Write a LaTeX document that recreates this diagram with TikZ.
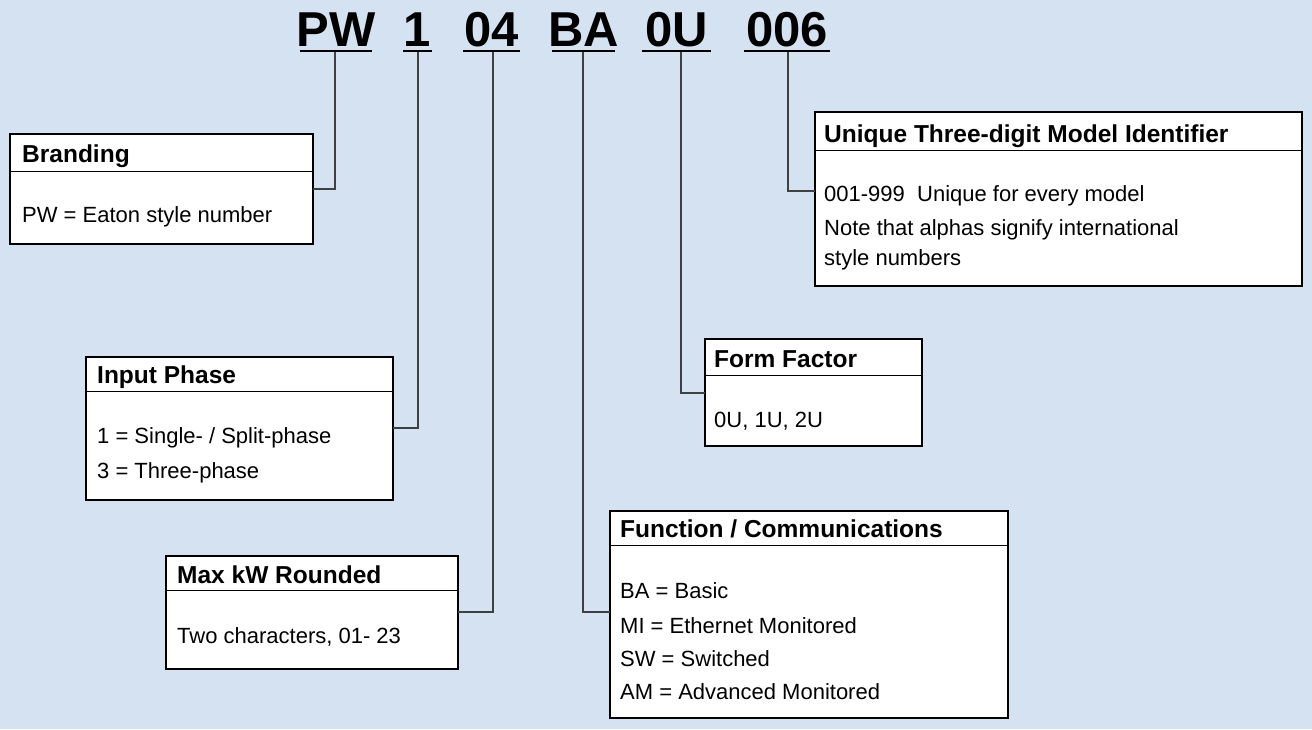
\documentclass[tikz,border=0pt]{standalone}
\usepackage{fontspec}
\setmainfont{Liberation Sans}
\begin{document}
\begin{tikzpicture}[x=1pt,y=-1pt,
  bx/.style={draw=black,line width=2.2pt,fill=white},
  sep/.style={draw=black,line width=1pt},
  hd/.style={anchor=base west,inner sep=0pt,font=\fontsize{24.5}{28}\selectfont\bfseries},
  bd/.style={anchor=base west,inner sep=0pt,font=\fontsize{22}{26}\selectfont},
  code/.style={anchor=base,inner sep=0pt,font=\fontsize{49}{52}\selectfont\bfseries},
  ul/.style={line width=2.2pt},
  con/.style={draw=black!75,line width=1.3pt}]
\fill[fill={rgb,255:red,213;green,226;blue,242}] (0,0) rectangle (1312,729);
\useasboundingbox (0,0) rectangle (1312,729);
% codes
\foreach \n/\t/\a/\b in {pw/PW/300/372,one/1/403/432,kw/04/463/520,ba/BA/552/615,ou/0U/642/711,six/006/744/830}{
  \node[code] (\n) at ({(\a+\b)/2},46) {\t};
  \draw[ul] (\a,51) -- (\b,51);
}
\coordinate (cpw) at (335,52);
\coordinate (cone) at (418,52);
\coordinate (ckw) at (493,52);
\coordinate (cba) at (583,52);
\coordinate (cou) at (681,52);
\coordinate (csix) at (788,52);
% boxes
\path[bx] (10,134) rectangle (313,244); \draw[sep] (10,171) -- (313,171);
\node[hd] (h1) at (22,162) {Branding};
\node[bd] (b1) at (22,222) {PW = Eaton style number};
\coordinate (e1) at (313,189);

\path[bx] (86,357) rectangle (393,500); \draw[sep] (86,391) -- (393,391);
\node[hd] (h2) at (97,383) {Input Phase};
\node[bd] (b2a) at (97,443) {1 = Single- / Split-phase};
\node[bd] (b2b) at (97,478) {3 = Three-phase};
\coordinate (e2) at (393,428);

\path[bx] (166,556) rectangle (458,669); \draw[sep] (166,590) -- (458,590);
\node[hd] (h3) at (177,583) {Max kW Rounded};
\node[bd] (b3) at (177,643) {Two characters, 01- 23};
\coordinate (e3) at (458,612);

\path[bx] (610,511) rectangle (1008,718); \draw[sep] (610,545) -- (1008,545);
\node[hd] (h4) at (620,537) {Function / Communications};
\node[bd] (b4a) at (620,598) {BA = Basic};
\node[bd] (b4b) at (620,633) {MI = Ethernet Monitored};
\node[bd] (b4c) at (620,666) {SW = Switched};
\node[bd] (b4d) at (620,699) {AM = Advanced Monitored};
\coordinate (e4) at (610,612);

\path[bx] (705,339) rectangle (922,446); \draw[sep] (705,375) -- (922,375);
\node[hd] (h5) at (714,367) {Form Factor};
\node[bd] (b5) at (714,427) {0U, 1U, 2U};
\coordinate (e5) at (705,393);

\path[bx] (815,112) rectangle (1302,286); \draw[sep] (815,150) -- (1302,150);
\node[hd] (h6) at (824,142) {Unique Three-digit Model Identifier};
\node[bd] (b6a) at (824,201) {001-999\ \ Unique for every model};
\node[bd] (b6b) at (824,235) {Note that alphas signify international};
\node[bd] (b6c) at (824,265) {style numbers};
\coordinate (e6) at (815,191);
% connectors
\draw[con] (cpw) |- (e1);
\draw[con] (cone) |- (e2);
\draw[con] (ckw) |- (e3);
\draw[con] (cba) |- (e4);
\draw[con] (cou) |- (e5);
\draw[con] (csix) |- (e6);
\end{tikzpicture}
\end{document}
